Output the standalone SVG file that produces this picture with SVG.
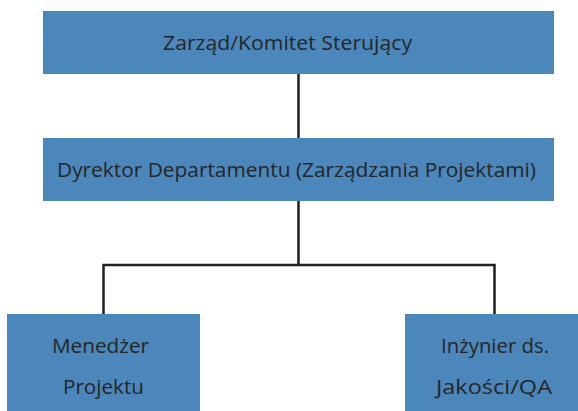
<svg xmlns="http://www.w3.org/2000/svg" width="578" height="411" viewBox="0 0 578 411">
<style>
.box{fill:#4B87BA}
.t{font-family:"Open Sans","Liberation Sans",sans-serif;font-size:20px;fill:#262626}
.c{stroke:#231F20;stroke-width:2.5;fill:none}
</style>
<rect width="578" height="411" fill="#fff"/>
<g id="connectors">
<line class="c" x1="298.5" y1="73" x2="298.5" y2="138"/>
<path class="c" d="M298.5 201 V265 M103.5 314 V265 H494.5 V314"/>
</g>
<g id="n1"><rect class="box" x="43" y="11" width="511" height="63"/>
<text class="t" x="163" y="50" textLength="249" lengthAdjust="spacingAndGlyphs">Zarząd/Komitet Sterujący</text></g>
<g id="n2"><rect class="box" x="43" y="138" width="511" height="63"/>
<text class="t" x="57" y="177" textLength="479" lengthAdjust="spacingAndGlyphs">Dyrektor Departamentu (Zarządzania Projektami)</text></g>
<g id="n3"><rect class="box" x="7" y="314" width="193" height="97"/>
<text class="t" x="52" y="353" textLength="97" lengthAdjust="spacingAndGlyphs">Menedżer</text>
<text class="t" x="63" y="394" textLength="81" lengthAdjust="spacingAndGlyphs">Projektu</text></g>
<g id="n4"><rect class="box" x="405" y="314" width="173" height="97"/>
<text class="t" x="441" y="353" textLength="108" lengthAdjust="spacingAndGlyphs">Inżynier ds.</text>
<text class="t" x="436" y="394" textLength="116" lengthAdjust="spacingAndGlyphs">Jakości/QA</text></g>
</svg>
